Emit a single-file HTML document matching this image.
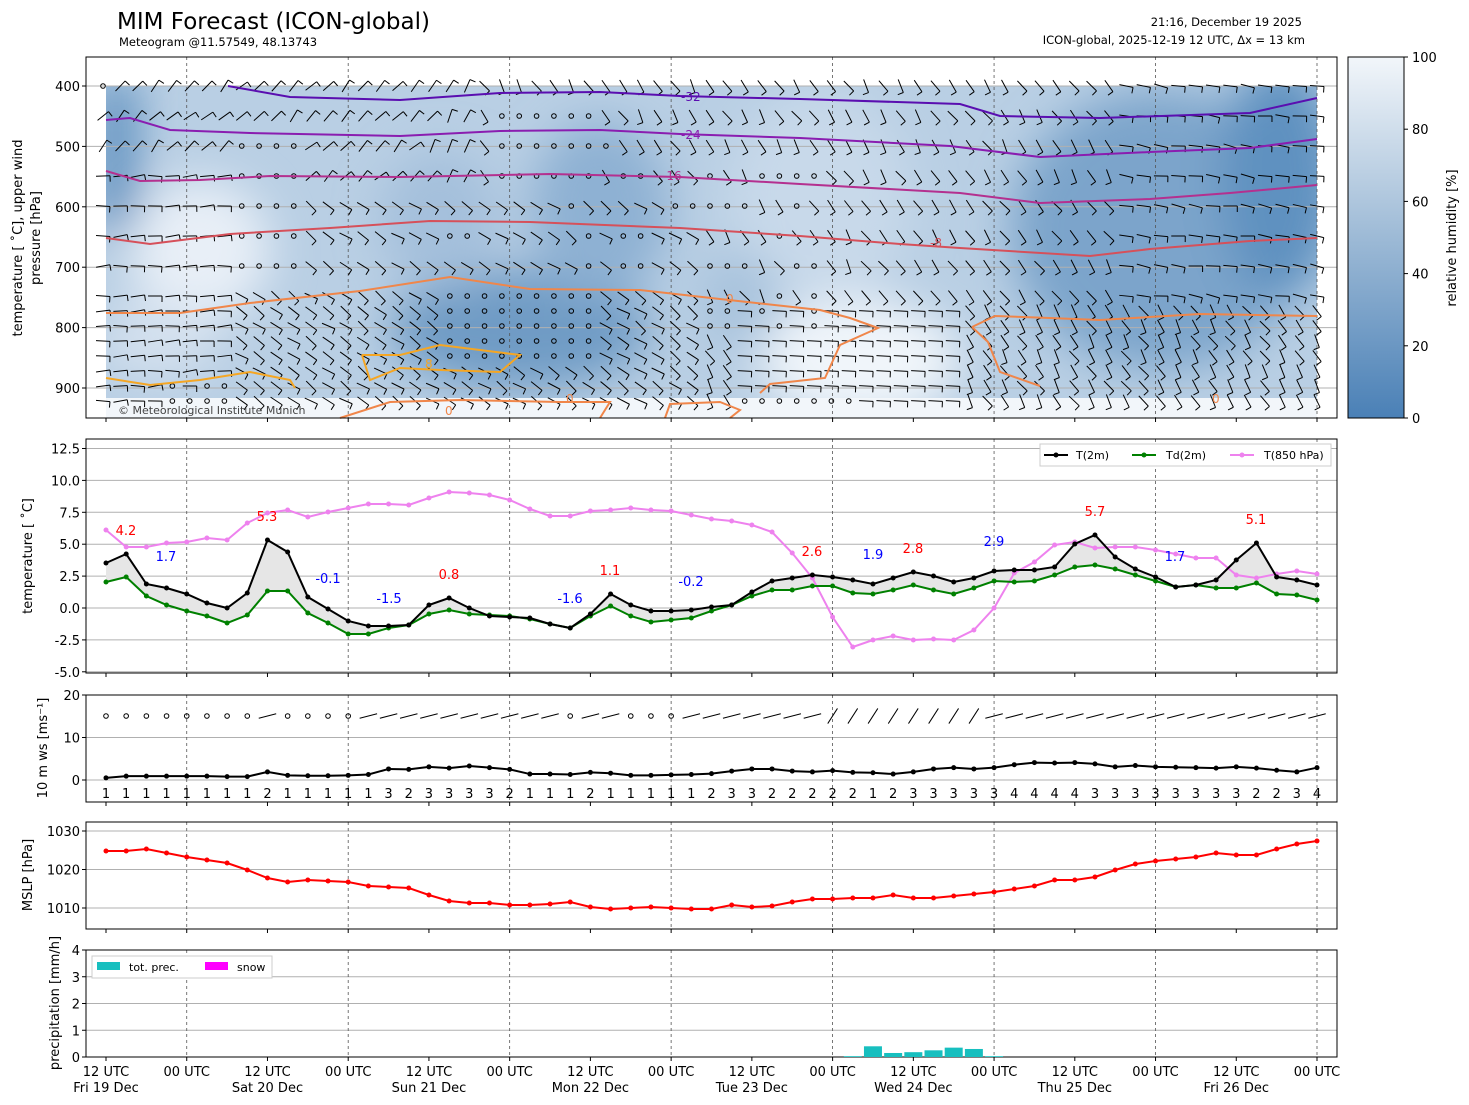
<!DOCTYPE html>
<html><head><meta charset="utf-8">
<style>
body{margin:0;background:#fff;}
svg{display:block}
text{font-family:"DejaVu Sans","Liberation Sans",sans-serif;}
</style></head><body>
<svg id="s" width="1469" height="1105" xmlns="http://www.w3.org/2000/svg">
<defs>
<filter id="bl" x="-50%" y="-50%" width="200%" height="200%"><feGaussianBlur stdDeviation="22"/></filter>
<clipPath id="cp"><rect x="106" y="86" width="1211" height="332"/></clipPath>
<linearGradient id="cb" x1="0" y1="1" x2="0" y2="0">
<stop offset="0" stop-color="#4a80b6"/><stop offset="0.5" stop-color="#9dbad6"/><stop offset="1" stop-color="#f2f6fa"/></linearGradient>
</defs>
<rect width="1469" height="1105" fill="#fff"/>
<text x="117" y="29" font-size="23">MIM Forecast (ICON-global)</text>
<text x="119" y="46" font-size="11.5">Meteogram @11.57549, 48.13743</text>
<text x="1302" y="26" font-size="11.5" text-anchor="end">21:16, December 19 2025</text>
<text x="1305" y="44" font-size="11.5" text-anchor="end">ICON-global, 2025-12-19 12 UTC, Δx = 13 km</text>
<g clip-path="url(#cp)">
<rect x="106" y="86" width="1211" height="332" fill="#b9cfe4"/>
<g filter="url(#bl)">
<rect x="96" y="80" width="40" height="150" fill="#5a8dbd"/>
<ellipse cx="200" cy="250" rx="70" ry="70" fill="#e8eff7"/>
<ellipse cx="160" cy="340" rx="60" ry="40" fill="#d3e0ee"/>
<ellipse cx="520" cy="330" rx="130" ry="60" fill="#6f9bc5"/>
<ellipse cx="440" cy="220" rx="60" ry="70" fill="#a4c0dc"/>
<ellipse cx="600" cy="210" rx="70" ry="90" fill="#8eb1d3"/>
<ellipse cx="820" cy="200" rx="90" ry="110" fill="#c8d9ea"/>
<ellipse cx="860" cy="360" rx="100" ry="60" fill="#f0f5fa"/>
<ellipse cx="740" cy="300" rx="40" ry="50" fill="#a8c3dd"/>
<ellipse cx="1160" cy="230" rx="150" ry="140" fill="#7ca4cb"/>
<ellipse cx="1280" cy="180" rx="60" ry="120" fill="#5f91c0"/>
</g>
<rect x="106" y="398" width="1211" height="20" fill="#f2f6fa"/>
</g>
<g id="grid"></g>
<g id="barbs" stroke="#000" stroke-width="1" fill="none"></g>
<g fill="none" stroke-width="2">
<polyline stroke="#5a0eb0" points="228,86 290,97 400,100 500,93 600,92 680,96 800,99 960,104 1000,116 1100,118 1250,113 1317,98"/>
<polyline stroke="#8a1db0" points="106,120 130,118 170,130 250,133 400,136 500,131 600,130 680,134 800,138 950,146 1040,157 1150,152 1250,148 1317,139"/>
<polyline stroke="#b4308f" points="106,171 140,181 200,180 270,176 400,177 550,174 680,177 800,184 960,193 1040,203 1150,199 1230,193 1317,185"/>
<polyline stroke="#d6505a" points="106,238 150,244 230,234 330,228 430,221 530,222 680,228 800,236 900,244 960,248 1090,256 1150,249 1250,241 1317,238"/>
<polyline stroke="#f0864a" points="106,313 180,313 250,303 360,291 450,277 530,289 640,290 720,299 820,310 850,318 878,328 840,345 825,378 770,384 760,393"/>
<polyline stroke="#f0864a" points="972,327 995,316 1050,318 1100,320 1200,314 1317,316"/>
<polyline stroke="#f0864a" points="972,327 988,342 1000,372 1040,386"/>
<polyline stroke="#f0864a" points="340,418 390,402 460,400 560,402 610,402 600,418"/>
<polyline stroke="#f0864a" points="665,418 670,404 720,402 740,410 730,418"/>
<polyline stroke="#f5a623" points="362,355 400,355 440,345 480,350 520,355 500,372 440,370 400,368 370,380 362,355"/>
<polyline stroke="#f5a623" points="106,378 150,385 200,380 250,372 290,380 295,388"/>
</g>
<g font-size="12">
<text x="681" y="101" fill="#5a0eb0">-32</text><text x="681" y="139" fill="#8a1db0">-24</text>
<text x="662" y="180" fill="#b4308f">-16</text><text x="930" y="247" fill="#d6505a">-8</text>
<text x="726" y="303" fill="#f0864a">0</text><text x="445" y="415" fill="#f0864a">0</text>
<text x="566" y="403" fill="#f0864a">0</text><text x="1212" y="403" fill="#f0864a">0</text>
<text x="425" y="368" fill="#f5a623">8</text>
</g>
<text x="118" y="414" font-size="11" fill="#444">© Meteorological Institute Munich</text>
<rect x="1348" y="57" width="56" height="361" fill="url(#cb)" stroke="#000"/>
<g id="cbt" font-size="13"></g>
<text transform="translate(1456,238) rotate(-90)" font-size="13" text-anchor="middle">relative humidity [%]</text>
<g fill="none" stroke="#000" stroke-width="1">
<rect x="86" y="57" width="1251" height="361"/>
<rect x="86" y="439" width="1251" height="234"/>
<rect x="86" y="695" width="1251" height="107"/>
<rect x="86" y="822" width="1251" height="107"/>
<rect x="86" y="950" width="1251" height="107"/>
</g>
<g id="dyn"></g>
<g font-size="13" text-anchor="middle">
<text transform="translate(22,238) rotate(-90)">temperature [ ˚C], upper wind</text>
<text transform="translate(40,238) rotate(-90)">pressure [hPa]</text>
<text transform="translate(32,556) rotate(-90)">temperature [ ˚C]</text>
<text transform="translate(47,748) rotate(-90)">10 m ws [ms⁻¹]</text>
<text transform="translate(32,875) rotate(-90)">MSLP [hPa]</text>
<text transform="translate(59,1003) rotate(-90)">precipitation [mm/h]</text>
</g>
<g font-size="11">
<rect x="1040" y="444" width="291" height="22" fill="#fff" stroke="#ccc"/>
<line x1="1044" y1="455" x2="1068" y2="455" stroke="#000" stroke-width="2"/><circle cx="1056" cy="455" r="2.5"/><text x="1076" y="459">T(2m)</text>
<line x1="1132" y1="455" x2="1156" y2="455" stroke="green" stroke-width="2"/><circle cx="1144" cy="455" r="2.5" fill="green"/><text x="1166" y="459">Td(2m)</text>
<line x1="1230" y1="455" x2="1254" y2="455" stroke="violet" stroke-width="2"/><circle cx="1242" cy="455" r="2.5" fill="violet"/><text x="1264" y="459">T(850 hPa)</text>
<rect x="92" y="956" width="180" height="22" fill="#fff" stroke="#ccc"/>
<rect x="97" y="962" width="23" height="8" fill="#17bfbf"/><text x="129" y="971">tot. prec.</text>
<rect x="205" y="962" width="23" height="8" fill="#ff00ff"/><text x="237" y="971">snow</text>
</g>
</svg>
<script>
var NS="http://www.w3.org/2000/svg",S=document.getElementById('dyn');
function el(t,a,p){var e=document.createElementNS(NS,t);for(var k in a)e.setAttribute(k,a[k]);(p||S).appendChild(e);return e;}
function tx(x,y,s,a){var e=el('text',Object.assign({x:x,y:y},a||{}));e.textContent=s;return e;}
var X=[];for(var i=0;i<61;i++)X.push(106+i*1211/60);
var G=document.getElementById('grid');
function hl(y){el('line',{x1:86,x2:1337,y1:y,y2:y,stroke:'#b0b0b0','stroke-width':1},G);}
function yt(y){el('line',{x1:82,x2:86,y1:y,y2:y,stroke:'#000'});}
[400,500,600,700,800,900].forEach(function(p){var y=86+(p-400)*0.604;hl(y);yt(y);tx(80,y+5,p,{'font-size':13,'text-anchor':'end'});});
for(var v=-5;v<=12.5;v+=2.5){var y=608-v*12.76;hl(y);yt(y);tx(80,y+5,v.toFixed(1),{'font-size':13,'text-anchor':'end'});}
[0,10,20].forEach(function(v){var y=780-v*4.25;hl(y);yt(y);tx(80,y+5,v,{'font-size':13,'text-anchor':'end'});});
[1010,1020,1030].forEach(function(v){var y=908-(v-1010)*3.85;hl(y);yt(y);tx(80,y+5,v,{'font-size':13,'text-anchor':'end'});});
[0,1,2,3,4].forEach(function(v){var y=1057-v*26.75;hl(y);yt(y);tx(80,y+5,v,{'font-size':13,'text-anchor':'end'});});
[0,20,40,60,80,100].forEach(function(v){var y=418-v*3.61;el('line',{x1:1404,x2:1408,y1:y,y2:y,stroke:'#000'});tx(1412,y+5,v,{'font-size':13},document.getElementById('cbt'));});
for(var d=0;d<8;d++){var x=X[4+d*8];[[57,418],[439,673],[695,802],[822,929],[950,1057]].forEach(function(r){el('line',{x1:x,x2:x,y1:r[0],y2:r[1],stroke:'#555','stroke-width':0.8,'stroke-dasharray':'3,3'},G);});}
var days=['Fri 19 Dec','Sat 20 Dec','Sun 21 Dec','Mon 22 Dec','Tue 23 Dec','Wed 24 Dec','Thu 25 Dec','Fri 26 Dec'];
for(var k=0;k<16;k++){var x=X[k*4];[418,673,802,929,1057].forEach(function(y){el('line',{x1:x,x2:x,y1:y,y2:y+4,stroke:'#000'});});
tx(x,1076,k%2?'00 UTC':'12 UTC',{'font-size':13,'text-anchor':'middle'});if(k%2==0)tx(x,1092,days[k/2],{'font-size':13,'text-anchor':'middle'});}
var T=[563,554,584,588,594,603,608,593,540,552,597,609,621,626,626,625,605,598,608,616,617,618,624,628,614,594,605,611,611,610,607,605,592,581,578,575,577,580,584,578,572,576,582,578,571,570,570,567,544,535,557,569,577,587,585,580,560,543,577,580,585];
var D=[582,577,596,605,611,616,623,615,591,591,613,623,634,634,628,625,614,610,614,615,616,619,624,628,616,606,616,622,620,618,611,605,596,590,590,586,586,593,594,590,585,590,594,588,581,582,581,575,567,565,569,575,581,587,585,588,588,583,594,595,600];
var P=[530,547,547,543,542,538,540,523,513,510,517,512,508,504,504,505,498,492,493,495,500,509,516,516,511,510,508,510,511,515,519,521,525,532,553,578,617,647,640,636,640,639,640,630,608,573,562,545,542,548,547,547,550,554,558,558,575,578,574,571,574];
function pts(A){return A.map(function(y,i){return X[i].toFixed(1)+','+y;}).join(' ');}
el('polygon',{points:pts(T)+' '+D.map(function(y,i){return X[i].toFixed(1)+','+y;}).reverse().join(' '),fill:'#e6e6e6',stroke:'none'});
function series(A,c){el('polyline',{points:pts(A),fill:'none',stroke:c,'stroke-width':2});A.forEach(function(y,i){el('circle',{cx:X[i],cy:y,r:2.5,fill:c});});}
series(P,'violet');series(D,'green');series(T,'#000');
[['4.2',126,535,'red'],['1.7',166,561,'blue'],['5.3',267,521,'red'],['-0.1',328,583,'blue'],['-1.5',389,603,'blue'],['0.8',449,579,'red'],['-1.6',570,603,'blue'],['1.1',610,575,'red'],['-0.2',691,586,'blue'],['2.6',812,556,'red'],['1.9',873,559,'blue'],['2.8',913,553,'red'],['2.9',994,546,'blue'],['5.7',1095,516,'red'],['1.7',1175,561,'blue'],['5.1',1256,524,'red']].forEach(function(a){tx(a[1],a[2],a[0],{'font-size':13,fill:a[3],'text-anchor':'middle'});});
var W=[1,1,1,1,1,1,1,1,2,1,1,1,1,1,3,2,3,3,3,3,2,1,1,1,2,1,1,1,1,1,2,3,3,2,2,2,2,2,1,2,3,3,3,3,3,4,4,4,4,3,3,3,3,3,3,3,3,2,2,3,4];
var Wv=[0.5,0.9,0.9,0.9,0.9,0.9,0.8,0.8,1.9,1.1,1,1,1.1,1.3,2.6,2.5,3.1,2.8,3.3,2.9,2.5,1.4,1.4,1.3,1.8,1.6,1.1,1.1,1.2,1.3,1.5,2.1,2.6,2.6,2.1,1.9,2.2,1.8,1.7,1.4,1.9,2.6,2.9,2.6,2.9,3.6,4.1,4.0,4.1,3.8,3.1,3.4,3.1,3.0,2.9,2.8,3.1,2.8,2.3,1.9,2.9,3.8];
Wv=Wv.slice(0,61);
series(Wv.map(function(v){return 780-v*4.25;}),'#000');
W.forEach(function(v,i){tx(X[i],798,v,{'font-size':13,'text-anchor':'middle'});});
var calm=[0,1,2,3,4,5,6,7,9,10,11,12,23,26,27,28];
for(var i=0;i<61;i++){var x=X[i];if(calm.indexOf(i)>=0){el('circle',{cx:x,cy:716,r:2.3,fill:'none',stroke:'#000'});}
else{var a=(i>=36&&i<=43)?-1.0:-0.25;var dx=Math.cos(a)*9,dy=Math.sin(a)*9;el('line',{x1:x-dx,y1:716-dy,x2:x+dx,y2:716+dy,stroke:'#000'});}}
var M=[851,851,849,853,857,860,863,870,878,882,880,881,882,886,887,888,895,901,903,903,905,905,904,902,907,909,908,907,908,909,909,905,907,906,902,899,899,898,898,895,898,898,896,894,892,889,886,880,880,877,870,864,861,859,857,853,855,855,849,844,841];
series(M,'red');
[[37,0.03],[38,0.4],[39,0.15],[40,0.18],[41,0.25],[42,0.35],[43,0.3],[44,0.03]].forEach(function(p){var h=p[1]*26.75;el('rect',{x:X[p[0]]-9,y:1057-h,width:18,height:h,fill:'#17bfbf'});});
// upper barbs
var B=document.getElementById('barbs');var seed=7;function rnd(){seed=(seed*9301+49297)%233280;return seed/233280;}
var rows=[86,116,146,176,206,236,266,296,311,326,341,356,371,386,401];
function inR(x,y,a,b,c,d){return x>=a&&x<=b&&y>=c&&y<=d;}
rows.forEach(function(y){for(var j=0;j<71;j++){var x=103+j*1214/70;
var c=inR(x,y,230,300,140,270)||inR(x,y,440,600,290,360)||inR(x,y,500,600,110,180)||inR(x,y,440,470,230,240)||(inR(x,y,700,815,170,330)&&rnd()<0.45)||(inR(x,y,170,230,380,402)&&rnd()<0.6)||inR(x,y,740,850,398,404)||(inR(x,y,560,700,120,270)&&rnd()<0.25)||(x<110&&y==86);
if(c){el('circle',{cx:x,cy:y,r:2.3},B);continue;}
var a,bs=1;
if(y>=311&&x>=740&&x<=960){a=0.05;}
else if(x<230&&y>=176){a=-0.05+(rnd()-0.5)*0.3;}
else if(x<420&&y<180){a=-0.8+(rnd()-0.5)*0.5;}
else if(x<700&&y<=176){a=(x<480?-1.0:1.0)+(rnd()-0.5)*0.5;}
else if(x>1110&&y<=300){a=0.15+(rnd()-0.5)*0.3;}
else if(x>=700){a=1.0+(rnd()-0.5)*0.5;}
else {a=0.6+(rnd()-0.5)*0.4;}
var L=7,dx=Math.cos(a)*L,dy=Math.sin(a)*L;
el('line',{x1:x-dx,y1:y-dy,x2:x+dx,y2:y+dy},B);
var ex=x+dx,ey=y+dy,nx=-Math.sin(a)*6,ny=Math.cos(a)*6;el('line',{x1:ex,y1:ey,x2:ex+nx,y2:ey+ny},B);}});
</script>
</body></html>
